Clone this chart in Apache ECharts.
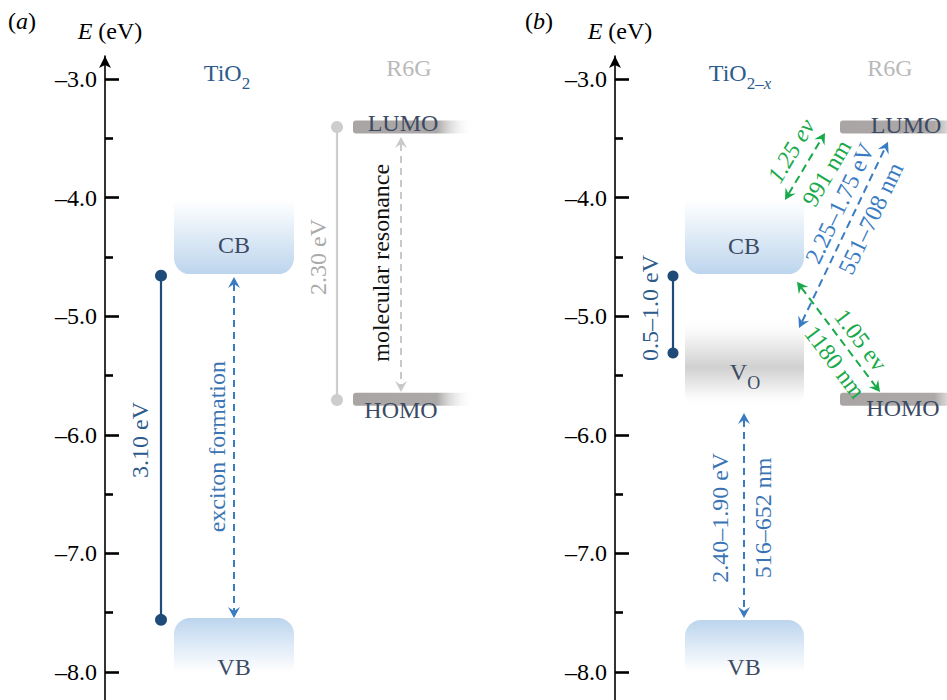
<!DOCTYPE html>
<html><head><meta charset="utf-8">
<script src="https://cdn.jsdelivr.net/npm/echarts@6/dist/echarts.min.js"></script>
<style>html,body{margin:0;padding:0;background:#fff}#c{width:947px;height:700px}</style>
</head><body><div id="c"></div>
<script>
// ---------------- data (energies in eV) ----------------
const majorTicks = [-8, -7, -6, -5, -4, -3];
const minorTicks = [-7.5, -6.5, -5.5, -4.5, -3.5];
const panelLetters = ['a', 'b'];
const bandNames = ['CB', 'VB'];
const levelNames = ['LUMO', 'HOMO'];
// panel (a) TiO2 + R6G
const cbA = [-4.02, -4.645];        // fade top, band edge
const vbA = [-7.545, -8.00];        // band edge, fade bottom
const r6gLevels = [-3.405, -5.70];  // LUMO, HOMO
const gapA = [-4.658, -7.56];       // 3.10 eV
const gapR6G = [-3.405, -5.707];    // 2.30 eV
const excitonA = [-4.67, -7.545];
const resonanceA = [-3.489, -5.639];
// panel (b) TiO2-x + R6G
const cbB = [-4.02, -4.645];
const voB = [-5.007, -5.766];       // oxygen-vacancy band
const vbB = [-7.562, -8.00];
const gapVo = [-4.661, -5.31];      // 0.5–1.0 eV
const voToVb = [-5.816, -7.545];    // 2.40–1.90 eV
const cbToLumo = [-4.02, -3.455];   // 1.25 eV
const voToLumo = [-5.10, -3.53];    // 2.25–1.75 eV
const cbToHomo = [-4.71, -5.64];    // 1.05 eV
const labelsA = ['3.10 eV', 'exciton formation', '2.30 eV', 'molecular resonance'];
const labelsB = ['0.5–1.0 eV', '2.40–1.90 eV', '516–652 nm', '1.25 ev', '991 nm', '2.25–1.75 eV', '551–708 nm', '1.05 ev', '1180 nm'];

// ---------------- styling / layout ----------------
const FF = '"Liberation Serif", "Times New Roman", serif';
const FS = 24;
const font = (s, st) => (st ? st + ' ' : '') + s + 'px ' + FF;
const Y_MIN = -8.236, Y_MAX = -2.806;
const C = {
  navy: '#1f4b78', navyText: '#2c5b8c', blue: '#3a7cc1', blueText: '#3a74b4',
  green: '#18a94b', dark: '#3c4a63', grayLine: '#cdcdcd', grayText: '#aaaaaa',
  r6g: '#b9b9b9', bar: '#a9a5a5'
};
const cbStops = [{offset: 0, color: 'rgba(189,214,238,0)'}, {offset: 1, color: '#bcd5ed'}];
const vbStops = [{offset: 0, color: '#bcd5ed'}, {offset: 1, color: 'rgba(189,214,238,0)'}];
const voStops = [{offset: 0, color: 'rgba(255,255,255,0)'}, {offset: 0.22, color: '#f4f4f4'}, {offset: 0.56, color: '#d0d0d0'}, {offset: 0.8, color: '#efefef'}, {offset: 1, color: 'rgba(255,255,255,0)'}];
const barStops = [{offset: 0, color: C.bar}, {offset: 0.7, color: '#aca8a8'}, {offset: 1, color: 'rgba(255,255,255,0)'}];
const subRich = (color, size, pad) => ({s: {font: font(size), fill: color, padding: [pad, 0, 0, 0]},
  x: {font: font(size, 'italic'), fill: color, padding: [pad, 0, 0, 0]}});

// element descriptors (x in px from axis, y in eV)
const elemsA = [
  {k: 'band', x0: 69, x1: 189, top: cbA[0], bot: cbA[1], r: [0, 0, 16, 16], stops: cbStops},
  {k: 'band', x0: 69, x1: 189, top: vbA[0], bot: vbA[1], r: [16, 16, 0, 0], stops: vbStops},
  {k: 'bar', x0: 248, x1: 368, e: r6gLevels[0], stops: barStops},
  {k: 'bar', x0: 248, x1: 368, e: r6gLevels[1], stops: barStops},
  {k: 'gap', x: 56, e1: gapA[0], e2: gapA[1], color: C.navy, r: 6},
  {k: 'gap', x: 232, e1: gapR6G[0], e2: gapR6G[1], color: C.grayLine, r: 6},
  {k: 'arrow', x1: 129, e1: excitonA[0], x2: 129, e2: excitonA[1], color: C.blue, dash: [7, 5], labels: []},
  {k: 'arrow', x1: 296, e1: resonanceA[0], x2: 296, e2: resonanceA[1], color: '#c9c9c9', dash: [7, 5], labels: []},
  {k: 'text', x: 122, e: -2.95, text: 'TiO{s|2}', color: C.navyText, rich: subRich(C.navyText, 17, 21)},
  {k: 'text', x: 304, e: -2.903, text: 'R6G', color: C.r6g},
  {k: 'text', x: 129, e: -4.40, text: bandNames[0], color: C.dark},
  {k: 'text', x: 129, e: -7.958, text: bandNames[1], color: C.dark},
  {k: 'text', x: 298, e: -3.371, text: levelNames[0], color: C.dark},
  {k: 'text', x: 296, e: -5.79, text: levelNames[1], color: C.dark},
  {k: 'text', x: 35, e: -6.044, text: labelsA[0], color: C.navyText, rot: 90},
  {k: 'text', x: 112, e: -6.10, text: labelsA[1], color: C.blueText, rot: 90},
  {k: 'text', x: 213, e: -4.50, text: labelsA[2], color: C.grayText, rot: 90},
  {k: 'text', x: 276, e: -4.55, text: labelsA[3], color: '#111111', rot: 90}
];
const elemsB = [
  {k: 'band', x0: 70, x1: 189, top: cbB[0], bot: cbB[1], r: [0, 0, 16, 16], stops: cbStops},
  {k: 'band', x0: 70, x1: 189, top: voB[0], bot: voB[1], r: 14, stops: voStops},
  {k: 'band', x0: 70, x1: 189, top: vbB[0], bot: vbB[1], r: [16, 16, 0, 0], stops: vbStops},
  {k: 'bar', x0: 225, x1: 360, e: r6gLevels[0], stops: barStops},
  {k: 'bar', x0: 225, x1: 360, e: r6gLevels[1], stops: barStops},
  {k: 'gap', x: 58, e1: gapVo[0], e2: gapVo[1], color: C.navy, r: 5.5},
  {k: 'arrow', x1: 129, e1: voToVb[0], x2: 129, e2: voToVb[1], color: C.blue, dash: [7, 5], labels: []},
  {k: 'arrow', x1: 170, e1: cbToLumo[0], x2: 210, e2: cbToLumo[1], color: C.green, dash: [8, 5],
    labels: [{text: labelsB[3], t: 0.58, off: -20, italic: true}, {text: labelsB[4], t: 0.57, off: 22}]},
  {k: 'arrow', x1: 184, e1: voToLumo[0], x2: 273, e2: voToLumo[1], color: C.blue, dash: [8, 5],
    labels: [{text: labelsB[5], t: 0.63, off: -17}, {text: labelsB[6], t: 0.63, off: 17.5}]},
  {k: 'arrow', x1: 182, e1: cbToHomo[0], x2: 265, e2: cbToHomo[1], color: C.green, dash: [8, 5],
    labels: [{text: labelsB[7], t: 0.615, off: -16}, {text: labelsB[8], t: 0.63, off: 18}]},
  {k: 'text', x: 125, e: -2.95, text: 'TiO{s|2–}{x|x}', color: C.navyText, rich: subRich(C.navyText, 17, 21)},
  {k: 'text', x: 275, e: -2.903, text: 'R6G', color: C.r6g},
  {k: 'text', x: 129, e: -4.41, text: bandNames[0], color: C.dark},
  {k: 'text', x: 130, e: -5.47, text: 'V{s|O}', color: C.dark, rich: subRich(C.dark, 18, 22)},
  {k: 'text', x: 129, e: -7.958, text: bandNames[1], color: C.dark},
  {k: 'text', x: 291, e: -3.388, text: levelNames[0], color: C.dark},
  {k: 'text', x: 288, e: -5.774, text: levelNames[1], color: C.dark},
  {k: 'text', x: 35, e: -4.93, text: labelsB[0], color: C.navyText, rot: 90},
  {k: 'text', x: 105, e: -6.70, text: labelsB[1], color: C.blueText, rot: 90},
  {k: 'text', x: 148, e: -6.70, text: labelsB[2], color: C.blueText, rot: 90}
];

// ---------------- rendering helpers ----------------
function grad(stops, horiz) {
  return {type: 'linear', x: 0, y: 0, x2: horiz ? 1 : 0, y2: horiz ? 0 : 1, colorStops: stops};
}
function textEl(x, y, text, color, rotDeg, italic, rich) {
  return {type: 'text', x: x, y: y, rotation: (rotDeg || 0) * Math.PI / 180,
    style: {text: text, font: font(FS, italic ? 'italic' : ''), fill: color, align: 'center', verticalAlign: 'middle', rich: rich}};
}
function build(d, api) {
  if (d.k === 'band') {
    const p0 = api.coord([d.x0, d.top]), p1 = api.coord([d.x1, d.bot]);
    return {type: 'rect', shape: {x: p0[0], y: p0[1], width: p1[0] - p0[0], height: p1[1] - p0[1], r: d.r}, style: {fill: grad(d.stops)}};
  }
  if (d.k === 'bar') {
    const p0 = api.coord([d.x0, d.e]), p1 = api.coord([d.x1, d.e]);
    return {type: 'rect', shape: {x: p0[0], y: p0[1] - 6.5, width: p1[0] - p0[0], height: 13, r: [3, 0, 0, 3]}, style: {fill: grad(d.stops, true)}};
  }
  if (d.k === 'gap') {
    const a = api.coord([d.x, d.e1]), b = api.coord([d.x, d.e2]);
    return {type: 'group', children: [
      {type: 'line', shape: {x1: a[0], y1: a[1], x2: b[0], y2: b[1]}, style: {stroke: d.color, lineWidth: 2.2}},
      {type: 'circle', shape: {cx: a[0], cy: a[1], r: d.r}, style: {fill: d.color}},
      {type: 'circle', shape: {cx: b[0], cy: b[1], r: d.r}, style: {fill: d.color}}
    ]};
  }
  if (d.k === 'arrow') {
    const a = api.coord([d.x1, d.e1]), b = api.coord([d.x2, d.e2]);
    const dx = b[0] - a[0], dy = b[1] - a[1], len = Math.hypot(dx, dy);
    const ux = dx / len, uy = dy / len, nx = -uy, ny = ux;
    const L = 11, W = 6, N = 4;
    const head = (tip, s) => {
      const bx = tip[0] - s * ux * L, by = tip[1] - s * uy * L;
      const cx = tip[0] - s * ux * (L - N), cy = tip[1] - s * uy * (L - N);
      return {type: 'polygon', shape: {points: [tip, [bx + nx * W, by + ny * W], [cx, cy], [bx - nx * W, by - ny * W]]}, style: {fill: d.color}};
    };
    const children = [
      {type: 'line', shape: {x1: a[0] + ux * (L - N), y1: a[1] + uy * (L - N), x2: b[0] - ux * (L - N), y2: b[1] - uy * (L - N)},
        style: {stroke: d.color, lineWidth: 2, lineDash: d.dash}},
      head(b, 1), head(a, -1)
    ];
    const rot = -Math.atan2(uy, ux) * 180 / Math.PI;
    d.labels.forEach(l => {
      const px = a[0] + l.t * dx + l.off * nx, py = a[1] + l.t * dy + l.off * ny;
      children.push(textEl(px, py, l.text, d.color, rot, l.italic));
    });
    return {type: 'group', children: children};
  }
  if (d.k === 'text') {
    const p = api.coord([d.x, d.e]);
    return textEl(p[0], p[1], d.text, d.color, d.rot, false, d.rich);
  }
}
function customSeries(elems, idx) {
  return {
    type: 'custom', xAxisIndex: idx, yAxisIndex: idx * 2, silent: true, animation: false,
    data: elems.map((e, i) => [i, -5]),
    renderItem: (params, api) => build(elems[params.dataIndex], api)
  };
}
function yAxes(g) {
  return [{
    type: 'value', gridIndex: g, min: Y_MIN, max: Y_MAX, position: 'left',
    name: '{i|E} (eV)', nameLocation: 'end', nameGap: 13,
    nameTextStyle: {fontFamily: FF, fontSize: FS, color: '#000', padding: [0, 0, 0, 10],
      rich: {i: {fontFamily: FF, fontSize: FS, fontStyle: 'italic', color: '#000'}}},
    axisLine: {show: true, onZero: false, symbol: ['none', 'arrow'], symbolSize: [9, 12], lineStyle: {color: '#000', width: 1.6}},
    axisTick: {show: true, inside: true, length: 14, customValues: majorTicks, lineStyle: {color: '#000', width: 2.6}},
    axisLabel: {show: true, customValues: majorTicks, margin: 8, fontFamily: FF, fontSize: FS, color: '#000',
      formatter: v => '–' + Math.abs(v).toFixed(1)},
    splitLine: {show: false}
  }, {
    type: 'value', gridIndex: g, min: Y_MIN, max: Y_MAX, position: 'left',
    axisLine: {show: false, onZero: false},
    axisTick: {show: true, inside: true, length: 8, customValues: minorTicks, lineStyle: {color: '#000', width: 2.6}},
    axisLabel: {show: false}, splitLine: {show: false}
  }];
}

const chart = echarts.init(document.getElementById('c'), null, {renderer: 'svg', width: 947, height: 700});
chart.setOption({
  animation: false,
  backgroundColor: '#fff',
  grid: [
    {left: 105, top: 56, width: 368, height: 644},
    {left: 615, top: 56, width: 332, height: 644}
  ],
  xAxis: [
    {type: 'value', gridIndex: 0, min: 0, max: 368, show: false},
    {type: 'value', gridIndex: 1, min: 0, max: 332, show: false}
  ],
  yAxis: yAxes(0).concat(yAxes(1)),
  graphic: [
    {type: 'text', left: 8, top: 9, style: {text: '({i|' + panelLetters[0] + '})', font: font(FS), fill: '#000',
      rich: {i: {font: font(FS, 'italic'), fill: '#000'}}}},
    {type: 'text', left: 525, top: 9, style: {text: '({i|' + panelLetters[1] + '})', font: font(FS), fill: '#000',
      rich: {i: {font: font(FS, 'italic'), fill: '#000'}}}}
  ],
  series: [customSeries(elemsA, 0), customSeries(elemsB, 1)]
});
</script></body></html>
